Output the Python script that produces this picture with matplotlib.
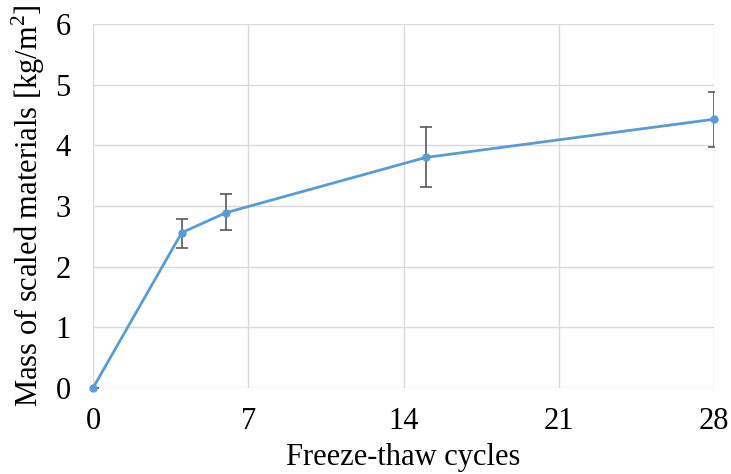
import matplotlib.pyplot as plt

# data
cycles = [0, 4, 6, 15, 28]
mass = [0.0, 2.56, 2.89, 3.80, 4.43]
err_low = [0.0, 0.25, 0.28, 0.49, 0.46]
err_high = [0.0, 0.23, 0.30, 0.50, 0.45]

plt.rcParams["font.family"] = ["Liberation Serif", "DejaVu Serif"]
plt.rcParams["mathtext.fontset"] = "custom"
plt.rcParams["mathtext.rm"] = "Liberation Serif"

fig = plt.figure(figsize=(7.31, 4.74), dpi=100)
ax = fig.add_axes([93 / 731, 1 - 388 / 474, 621 / 731, 364 / 474])

ax.errorbar(cycles, mass, yerr=[err_low, err_high], fmt="none",
            ecolor="#595959", elinewidth=1.2, capsize=4, capthick=1.2, zorder=2)
ax.plot(cycles, mass, color="#5B9BD5", linewidth=2, marker="o",
        markersize=5, zorder=3, clip_on=False)

ax.set_xlim(0, 28)
ax.set_ylim(0, 6)
ax.set_xticks([0, 7, 14, 21, 28])
ax.set_yticks(range(0, 7))
ax.grid(True, color="#D9D9D9", linewidth=1)
ax.set_axisbelow(True)
for s in ax.spines.values():
    s.set_visible(False)
ax.tick_params(length=0, labelsize=22)
ax.tick_params(axis="x", pad=14)
ax.tick_params(axis="y", pad=16)

ax.set_xlabel("Freeze-thaw cycles", fontsize=22, labelpad=5)
ax.set_ylabel("Mass of scaled materials [kg/m$^\\mathrm{2}$]", fontsize=22, labelpad=6)

fig.savefig("out.png", dpi=100)
